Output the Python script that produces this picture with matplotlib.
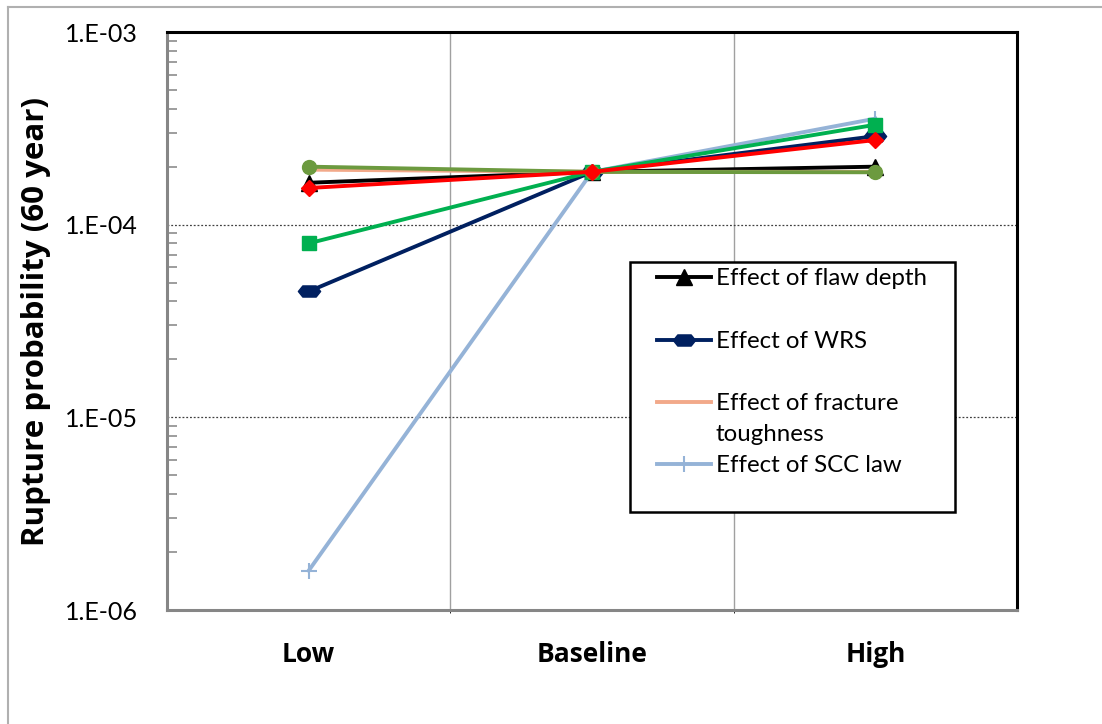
import matplotlib
matplotlib.use("Agg")
import matplotlib.pyplot as plt
import numpy as np
from matplotlib.path import Path
from matplotlib.lines import Line2D
from matplotlib.patches import Rectangle
from matplotlib.ticker import LogLocator, FixedLocator, NullFormatter, FuncFormatter

plt.rcParams['font.family'] = ['Lato', 'DejaVu Sans']
BOLD_FAMILY = ['Open Sans', 'DejaVu Sans']

W, H = 1102, 724

# Sensitivity cases
categories = ["Low", "Baseline", "High"]

flaw_depth = [1.65e-4, 1.88e-4, 2.0e-4]
wrs = [4.5e-5, 1.88e-4, 2.88e-4]
fracture_toughness = [1.93e-4, 1.88e-4, 1.88e-4]
scc_law = [1.6e-6, 1.88e-4, 3.55e-4]
series_green = [8.0e-5, 1.88e-4, 3.3e-4]
series_olive = [2.0e-4, 1.88e-4, 1.87e-4]
series_red = [1.55e-4, 1.88e-4, 2.75e-4]

labels = ["Effect of flaw depth", "Effect of WRS",
          "Effect of fracture\ntoughness", "Effect of SCC law"]

# elongated hexagon marker
hex_marker = Path([(-1.0, 0.0), (-0.6, 0.5), (0.6, 0.5), (1.0, 0.0),
                   (0.6, -0.5), (-0.6, -0.5), (-1.0, 0.0)],
                  [Path.MOVETO] + [Path.LINETO] * 5 + [Path.CLOSEPOLY])

lw = 2.8
styles = [
    dict(color="black", lw=lw, marker="^", ms=12),
    dict(color="#002060", lw=lw, marker=hex_marker, ms=16),
    dict(color="#F2A98A", lw=lw),
    dict(color="#95B3D7", lw=lw, marker="+", ms=12, mew=1.5),
]

fig = plt.figure(figsize=(W / 100, H / 100), dpi=100)
ax = fig.add_axes([167 / W, 1 - 610 / H, 850 / W, 578 / H])

x = np.arange(len(categories)) + 0.5

ax.plot(x, flaw_depth, zorder=3, **styles[0])
ax.plot(x, wrs, zorder=3, **styles[1])
ax.plot(x, fracture_toughness, zorder=3, **styles[2])
ax.plot(x, scc_law, zorder=3, **styles[3])
ax.plot(x, series_green, color="#00B050", lw=lw, marker="s", ms=9.5, zorder=3)
ax.plot(x, series_olive, color="#6C9A3F", lw=lw, marker="o", ms=10, zorder=3)
ax.plot(x, series_red, color="#FF0000", lw=lw, marker="D", ms=8, zorder=3)

ax.set_yscale("log")
ax.set_ylim(1e-6, 1e-3)
ax.set_xlim(0, 3)

ax.yaxis.set_major_locator(LogLocator(base=10, numticks=10))
ax.yaxis.set_major_formatter(FuncFormatter(lambda v, p: "1.E-%02d" % round(-np.log10(v))))
ax.yaxis.set_minor_locator(LogLocator(base=10, subs=np.arange(2, 10), numticks=10))
ax.yaxis.set_minor_formatter(NullFormatter())
ax.tick_params(axis="y", which="major", length=0, pad=21, labelsize=18)
ax.tick_params(axis="y", which="minor", direction="in", length=7, width=1.2, color="#8C8C8C")

ax.set_xticks(x)
ax.set_xticklabels(categories, fontsize=19, fontweight="bold", family=BOLD_FAMILY)
ax.tick_params(axis="x", length=0, pad=22)
ax.xaxis.set_minor_locator(FixedLocator([1, 2]))
ax.grid(True, axis="x", which="minor", color="#A0A0A0", lw=1.0, ls="-", zorder=0)
ax.grid(True, axis="y", which="major", color="#404040", lw=0.9, ls=(0, (1.5, 1.5)), zorder=0)

for s in ("left", "bottom"):
    ax.spines[s].set_color("#868686")
    ax.spines[s].set_linewidth(2.2)
for s in ("top", "right"):
    ax.spines[s].set_color("black")
    ax.spines[s].set_linewidth(2.2)

ax.set_ylabel("Rupture probability (60 year)", fontsize=22.5, fontweight="bold",
              family=BOLD_FAMILY)
ax.yaxis.set_label_coords(-116 / 850, 0.5)


# legend box laid out in pixel units (from the top-left of the figure)
def fx(px):
    return px / W


def fy(py):
    return 1 - py / H


fig.add_artist(Rectangle((fx(630), fy(512)), fx(955) - fx(630), fy(262) - fy(512),
                         transform=fig.transFigure, facecolor="white",
                         edgecolor="black", lw=1.8, zorder=5))
entry_y = [277, 340, 402, 464]
for style, label, py in zip(styles, labels, entry_y):
    line = Line2D([fx(657), fx(684), fx(711)], [fy(py)] * 3, transform=fig.transFigure,
                  markevery=[1], zorder=6, **style)
    fig.add_artist(line)
    fig.text(fx(716), fy(py - 9), label, fontsize=17.3, va="top", ha="left",
             linespacing=1.6, zorder=6)

# outer chart border
fig.add_artist(Line2D([fx(8), fx(8)], [0, fy(7)], color="#B0B0B0", lw=1.5))
fig.add_artist(Line2D([fx(8), 1], [fy(7), fy(7)], color="#B0B0B0", lw=1.5))

fig.savefig("out.png", dpi=100)
